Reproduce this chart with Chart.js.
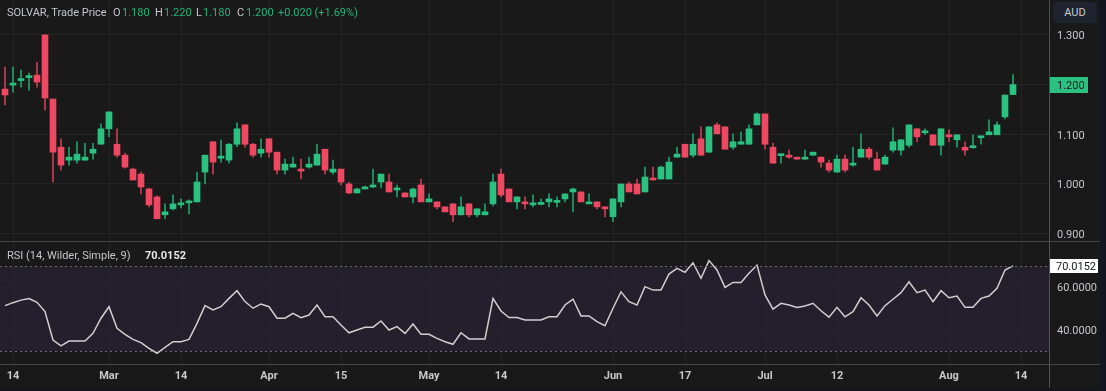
<!DOCTYPE html>
<html>
<head>
<meta charset="utf-8">
<script src="https://cdn.jsdelivr.net/npm/chart.js@4.4.1/dist/chart.umd.min.js"></script>
<style>
  html, body { margin: 0; padding: 0; background: #13161e; }
  #wrap { position: relative; width: 1100px; height: 388px; background: #191919; overflow: hidden;
          font-family: Roboto, "Open Sans", sans-serif; }
  #pricePane { position: absolute; left: 0; top: 0; width: 1100px; height: 242px; }
  #rsiPane { position: absolute; left: 0; top: 242px; width: 1100px; height: 146px; }
  .hline { position: absolute; left: 0; width: 1100px; height: 1px; background: #444; }
  .vline { position: absolute; left: 1049px; top: 0; width: 1px; height: 388px; background: #4f4f4f; }
  .txt { position: absolute; font-size: 11px; line-height: 13px; white-space: nowrap; }
  .lbl { color: #c3c5cb; }
  .up { color: #22b27a; }
  #aud { position: absolute; left: 1053px; top: 2px; width: 44px; height: 21px; border-radius: 4px;
         background: #1f2330; color: #c8cad2; font-size: 11px; line-height: 21px; text-align: center; }
</style>
</head>
<body>
<div id="wrap">
  <div id="pricePane"><canvas id="priceChart"></canvas></div>
  <div id="rsiPane"><canvas id="rsiChart"></canvas></div>
  <div class="hline" style="top:241px"></div>
  <div class="hline" style="top:364px"></div>
  <div class="vline"></div>

  <div class="txt lbl" style="left:7px;top:6px">SOLVAR, Trade Price</div>
  <div class="txt lbl" style="left:113px;top:6px">O</div><div class="txt up" style="left:122px;top:6px">1.180</div>
  <div class="txt lbl" style="left:155px;top:6px">H</div><div class="txt up" style="left:164px;top:6px">1.220</div>
  <div class="txt lbl" style="left:196px;top:6px">L</div><div class="txt up" style="left:203px;top:6px">1.180</div>
  <div class="txt lbl" style="left:237px;top:6px">C</div><div class="txt up" style="left:246px;top:6px">1.200</div>
  <div class="txt up" style="left:278px;top:6px">+0.020 (+1.69%)</div>

  <div class="txt lbl" style="left:7px;top:249px">RSI (14, Wilder, Simple, 9)</div>
  <div class="txt" style="left:145px;top:249px;color:#e8e8e8;font-weight:bold">70.0152</div>

  <div id="aud">AUD</div>
</div>

<script>
// trading days per month (2024), last four of August are empty future slots
const febDays = [13, 14, 15, 16, 19, 20, 21, 22, 23, 26, 27, 28, 29];
const marDays = [1, 4, 5, 6, 7, 8, 11, 12, 13, 14, 15, 18, 19, 20, 21, 22, 25, 26, 27, 28];
const aprDays = [2, 3, 4, 5, 8, 9, 10, 11, 12, 15, 16, 17, 18, 19, 22, 23, 24, 26, 29, 30];
const mayDays = [1, 2, 3, 6, 7, 8, 9, 10, 13, 14, 15, 16, 17, 20, 21, 22, 23, 24, 27, 28, 29, 30, 31];
const junDays = [3, 4, 5, 6, 7, 11, 12, 13, 14, 17, 18, 19, 20, 21, 24, 25, 26, 27, 28];
const julDays = [1, 2, 3, 4, 5, 8, 9, 10, 11, 12, 15, 16, 17, 18, 19, 22, 23, 24, 25, 26, 29, 30, 31];
const augDays = [1, 2, 5, 6, 7, 8, 9, 12, 13, 14, 15, 16, 19];

const axisDates = ["02-14", "03-01", "03-14", "04-02", "04-15", "05-01", "05-14",
                   "06-03", "06-17", "07-01", "07-12", "08-01", "08-14"];
const axisText = ["14", "Mar", "14", "Apr", "15", "May", "14", "Jun", "17", "Jul", "12", "Aug", "14"];

const opens = [
  1.191, 1.199, 1.208, 1.214, 1.219, 1.300, 1.171, 1.074, 1.048, 1.048,
  1.048, 1.062, 1.080, 1.111, 1.080, 1.058, 1.030, 1.020, 0.990, 0.974,
  0.938, 0.950, 0.958, 0.962, 0.964, 1.024, 1.085, 1.052, 1.048, 1.080,
  1.119, 1.080, 1.062, 1.091, 1.064, 1.028, 1.034, 1.030, 1.034, 1.038,
  1.070, 1.024, 1.030, 1.000, 0.982, 0.990, 0.994, 1.004, 1.004, 0.988,
  0.982, 0.974, 0.998, 0.964, 0.964, 0.954, 0.960, 0.938, 0.960, 0.938,
  0.938, 0.960, 1.020, 0.990, 0.964, 0.964, 0.958, 0.959, 0.964, 0.963,
  0.970, 0.984, 0.984, 0.960, 0.964, 0.954, 0.934, 0.964, 1.000, 1.000,
  0.984, 1.012, 1.010, 1.010, 1.054, 1.080, 1.058, 1.091, 1.064, 1.119,
  1.115, 1.074, 1.080, 1.080, 1.119, 1.141, 1.074, 1.057, 1.058, 1.054,
  1.050, 1.058, 1.054, 1.042, 1.024, 1.050, 1.038, 1.054, 1.070, 1.050,
  1.040, 1.068, 1.068, 1.078, 1.111, 1.103, 1.099, 1.078, 1.099, 1.089,
  1.074, 1.073, 1.093, 1.099, 1.099, 1.135, 1.180
];
const highs = [
  1.235, 1.235, 1.229, 1.223, 1.245, 1.300, 1.171, 1.091, 1.074, 1.085,
  1.082, 1.082, 1.121, 1.145, 1.111, 1.062, 1.032, 1.024, 0.992, 0.976,
  0.960, 0.978, 0.970, 0.968, 1.024, 1.058, 1.085, 1.089, 1.082, 1.123,
  1.119, 1.082, 1.091, 1.091, 1.064, 1.050, 1.054, 1.050, 1.054, 1.080,
  1.070, 1.048, 1.030, 1.004, 0.992, 0.996, 1.030, 1.020, 1.020, 0.998,
  0.982, 0.992, 1.010, 0.980, 0.964, 0.954, 0.960, 0.974, 0.960, 0.950,
  0.960, 1.020, 1.030, 0.990, 0.974, 0.974, 0.978, 0.970, 0.980, 0.974,
  0.980, 0.992, 0.984, 0.980, 0.964, 0.954, 0.970, 1.000, 1.004, 1.010,
  1.034, 1.034, 1.036, 1.054, 1.074, 1.080, 1.101, 1.115, 1.115, 1.123,
  1.115, 1.101, 1.105, 1.119, 1.143, 1.141, 1.082, 1.058, 1.068, 1.054,
  1.068, 1.064, 1.054, 1.048, 1.058, 1.058, 1.074, 1.101, 1.074, 1.064,
  1.058, 1.113, 1.089, 1.119, 1.111, 1.111, 1.099, 1.111, 1.109, 1.099,
  1.085, 1.099, 1.095, 1.129, 1.125, 1.179, 1.220
];
const lows = [
  1.159, 1.185, 1.195, 1.189, 1.195, 1.149, 1.004, 1.028, 1.038, 1.042,
  1.048, 1.050, 1.080, 1.095, 1.054, 1.032, 1.008, 0.980, 0.954, 0.930,
  0.930, 0.948, 0.952, 0.940, 0.964, 1.000, 1.020, 1.044, 1.042, 1.075,
  1.074, 1.054, 1.054, 1.054, 1.020, 1.020, 1.034, 1.010, 1.032, 1.038,
  1.020, 1.020, 0.998, 0.980, 0.982, 0.990, 0.992, 0.992, 0.984, 0.974,
  0.974, 0.962, 0.964, 0.964, 0.950, 0.944, 0.924, 0.938, 0.934, 0.934,
  0.938, 0.956, 0.974, 0.964, 0.950, 0.950, 0.954, 0.958, 0.954, 0.954,
  0.964, 0.944, 0.964, 0.960, 0.950, 0.934, 0.924, 0.954, 0.984, 0.980,
  0.984, 1.008, 1.010, 1.010, 1.054, 1.054, 1.054, 1.058, 1.064, 1.101,
  1.070, 1.070, 1.080, 1.080, 1.119, 1.070, 1.042, 1.042, 1.052, 1.050,
  1.050, 1.058, 1.034, 1.024, 1.024, 1.024, 1.036, 1.054, 1.050, 1.028,
  1.040, 1.064, 1.058, 1.074, 1.085, 1.099, 1.078, 1.058, 1.085, 1.074,
  1.058, 1.072, 1.080, 1.099, 1.099, 1.131, 1.180
];
const closes = [
  1.179, 1.200, 1.210, 1.216, 1.205, 1.173, 1.064, 1.038, 1.054, 1.060,
  1.054, 1.070, 1.111, 1.145, 1.058, 1.034, 1.008, 0.994, 0.958, 0.930,
  0.944, 0.960, 0.960, 0.964, 1.004, 1.058, 1.044, 1.054, 1.080, 1.111,
  1.080, 1.058, 1.070, 1.064, 1.028, 1.040, 1.040, 1.026, 1.040, 1.060,
  1.028, 1.030, 1.004, 0.982, 0.990, 0.994, 0.998, 1.020, 0.984, 0.990,
  0.974, 0.990, 0.964, 0.970, 0.954, 0.944, 0.938, 0.954, 0.938, 0.950,
  0.944, 1.004, 0.978, 0.964, 0.974, 0.960, 0.960, 0.960, 0.970, 0.965,
  0.980, 0.990, 0.964, 0.964, 0.954, 0.950, 0.970, 1.000, 0.984, 0.980,
  1.014, 1.008, 1.034, 1.044, 1.060, 1.054, 1.080, 1.058, 1.115, 1.101,
  1.070, 1.085, 1.085, 1.111, 1.141, 1.080, 1.042, 1.058, 1.054, 1.050,
  1.054, 1.064, 1.044, 1.028, 1.050, 1.028, 1.040, 1.070, 1.054, 1.028,
  1.054, 1.085, 1.089, 1.119, 1.095, 1.105, 1.078, 1.111, 1.095, 1.099,
  1.068, 1.074, 1.095, 1.105, 1.119, 1.179, 1.200
];
const rsiValues = [
  51.4, 52.8, 54.0, 54.7, 53.0, 48.6, 35.3, 32.6, 34.8, 34.8,
  34.8, 38.4, 45.5, 50.9, 40.8, 38.0, 35.6, 34.1, 31.4, 29.1,
  31.9, 34.5, 34.5, 35.6, 43.1, 51.4, 49.4, 50.9, 54.8, 58.4,
  53.3, 50.2, 52.2, 50.9, 45.5, 45.5, 47.8, 45.8, 47.0, 51.7,
  46.2, 46.2, 42.3, 38.7, 40.0, 41.3, 41.3, 44.2, 40.0, 41.6,
  38.4, 42.8, 38.0, 38.0, 36.1, 34.5, 33.3, 38.7, 35.8, 35.8,
  35.8, 54.8, 48.9, 45.8, 45.8, 44.7, 44.7, 44.7, 46.2, 46.2,
  51.7, 54.5, 46.6, 46.6, 43.9, 42.0, 50.2, 57.9, 53.3, 51.7,
  60.3, 58.7, 58.7, 66.2, 68.9, 67.0, 71.5, 64.2, 72.5, 68.1,
  60.0, 62.3, 62.3, 66.6, 70.4, 56.4, 49.8, 52.5, 51.7, 50.5,
  51.2, 52.5, 49.0, 46.0, 50.6, 46.2, 48.6, 55.1, 51.7, 46.6,
  51.4, 54.4, 57.5, 62.6, 57.5, 58.7, 53.3, 58.4, 55.1, 55.9,
  50.6, 50.6, 54.8, 55.9, 59.5, 68.1, 70.0152
];
const priceTicks = [0.9, 1.0, 1.1, 1.2, 1.3];
const rsiTicks = [40, 60];
const rsiBands = [30, 70];

const pad = d => String(d).padStart(2, "0");
const categories = [].concat(
  febDays.map(d => "02-" + pad(d)), marDays.map(d => "03-" + pad(d)),
  aprDays.map(d => "04-" + pad(d)), mayDays.map(d => "05-" + pad(d)),
  junDays.map(d => "06-" + pad(d)), julDays.map(d => "07-" + pad(d)),
  augDays.map(d => "08-" + pad(d))
);
const tickLabel = i => {
  const k = axisDates.indexOf(categories[i]);
  return k >= 0 ? axisText[k] : "";
};

const upColor = "#2bc281";
const downColor = "#ef4862";
const upWick = "#23a06b";
const downWick = "#c53e54";
const gridColor = "#252525";
const font = { family: "Roboto, 'Open Sans', sans-serif", size: 11 };
const isUp = i => closes[i] >= opens[i];
const candleColor = ctx => isUp(ctx.dataIndex) ? upColor : downColor;
const wickColor = ctx => isUp(ctx.dataIndex) ? upWick : downWick;
const vGrid = ctx => tickLabel(ctx.index) ? gridColor : "transparent";

// scales add label-overflow padding to the chart area; panes here run edge to edge
const noPad = s => { s.paddingTop = 0; s.paddingBottom = 0; s.paddingLeft = 0; s.paddingRight = 0; };

const lastPriceTag = {
  id: "lastPriceTag",
  afterDraw(chart) {
    const { ctx, scales: { y } } = chart;
    const last = closes[closes.length - 1];
    const py = Math.round(y.getPixelForValue(last));
    ctx.save();
    ctx.fillStyle = upColor;
    ctx.fillRect(1050, py - 8, 38, 16);
    ctx.fillStyle = "#131722";
    ctx.font = "11px Roboto, sans-serif";
    ctx.textBaseline = "middle";
    ctx.fillText(last.toFixed(3), 1057, py + 1);
    ctx.restore();
  }
};

new Chart(document.getElementById("priceChart"), {
  type: "bar",
  data: {
    labels: categories,
    datasets: [{
      label: "body",
      data: opens.map((o, i) => [o, closes[i]]),
      backgroundColor: candleColor,
      barThickness: 6,
      minBarLength: 2,
      grouped: false
    }, {
      label: "wick",
      data: lows.map((l, i) => [l, highs[i]]),
      backgroundColor: wickColor,
      barThickness: 1,
      minBarLength: 1,
      grouped: false
    }]
  },
  options: {
    responsive: true,
    maintainAspectRatio: false,
    animation: false,
    layout: { padding: { left: 1, top: 0, right: 0, bottom: 0 } },
    plugins: { legend: { display: false }, tooltip: { enabled: false } },
    scales: {
      x: {
        offset: true,
        ticks: { display: false, autoSkip: false },
        grid: { offset: false, drawTicks: false, color: vGrid },
        border: { display: false },
        afterFit: s => { s.height = 0; noPad(s); }
      },
      y: {
        position: "right",
        min: 0.8833,
        max: 1.3702,
        afterBuildTicks: s => { s.ticks = priceTicks.map(v => ({ value: v })); },
        afterFit: s => { s.width = 51; noPad(s); },
        ticks: { color: "#c5c7cc", font: font, padding: 8, labelOffset: 1.5, callback: v => v.toFixed(3) },
        grid: { drawTicks: false, color: gridColor },
        border: { display: false }
      }
    }
  },
  plugins: [lastPriceTag]
});

const rsiPanel = {
  id: "rsiPanel",
  beforeDraw(chart) {
    const { ctx, chartArea: a, scales: { y } } = chart;
    const top = y.getPixelForValue(rsiBands[1]);
    const bot = y.getPixelForValue(rsiBands[0]);
    ctx.save();
    ctx.fillStyle = "#241f2d";
    ctx.fillRect(0, top, a.right, bot - top);
    ctx.restore();
  },
  afterDraw(chart) {
    const { ctx, chartArea: a, scales: { y } } = chart;
    ctx.save();
    ctx.strokeStyle = "#6a6a6a";
    ctx.lineWidth = 1;
    ctx.setLineDash([2, 3]);
    rsiBands.forEach(v => {
      const py = Math.round(y.getPixelForValue(v)) + 0.5;
      ctx.beginPath();
      ctx.moveTo(0, py);
      ctx.lineTo(a.right, py);
      ctx.stroke();
    });
    ctx.setLineDash([]);
    const last = rsiValues[rsiValues.length - 1];
    const py = Math.round(y.getPixelForValue(last));
    ctx.fillStyle = "#ffffff";
    ctx.fillRect(1050, py - 7, 48, 14);
    ctx.fillStyle = "#131722";
    ctx.font = "11px Roboto, sans-serif";
    ctx.textBaseline = "middle";
    ctx.fillText(last.toFixed(4), 1056, py + 1);
    ctx.restore();
  }
};

new Chart(document.getElementById("rsiChart"), {
  type: "line",
  data: {
    labels: categories,
    datasets: [{
      data: rsiValues,
      borderColor: "#cfcfcf",
      borderWidth: 1.5,
      pointRadius: 0,
      tension: 0
    }]
  },
  options: {
    responsive: true,
    maintainAspectRatio: false,
    animation: false,
    layout: { padding: { left: 1, top: 1, right: 0, bottom: 0 } },
    plugins: { legend: { display: false }, tooltip: { enabled: false } },
    scales: {
      x: {
        offset: true,
        ticks: {
          autoSkip: false, maxRotation: 0, padding: 6, color: "#c8c8c8",
          font: { family: font.family, size: 11, weight: "bold" },
          callback: (v, i) => tickLabel(i)
        },
        grid: { offset: false, drawTicks: false, color: vGrid },
        border: { display: false },
        afterFit: s => { s.height = 24; noPad(s); }
      },
      y: {
        position: "right",
        min: 24.07,
        max: 80.75,
        afterBuildTicks: s => { s.ticks = rsiTicks.map(v => ({ value: v })); },
        afterFit: s => { s.width = 51; noPad(s); },
        ticks: { color: "#c5c7cc", font: font, padding: 8, labelOffset: 1, callback: v => v.toFixed(4) },
        grid: { drawTicks: false, color: gridColor },
        border: { display: false }
      }
    }
  },
  plugins: [rsiPanel]
});
</script>
</body>
</html>
